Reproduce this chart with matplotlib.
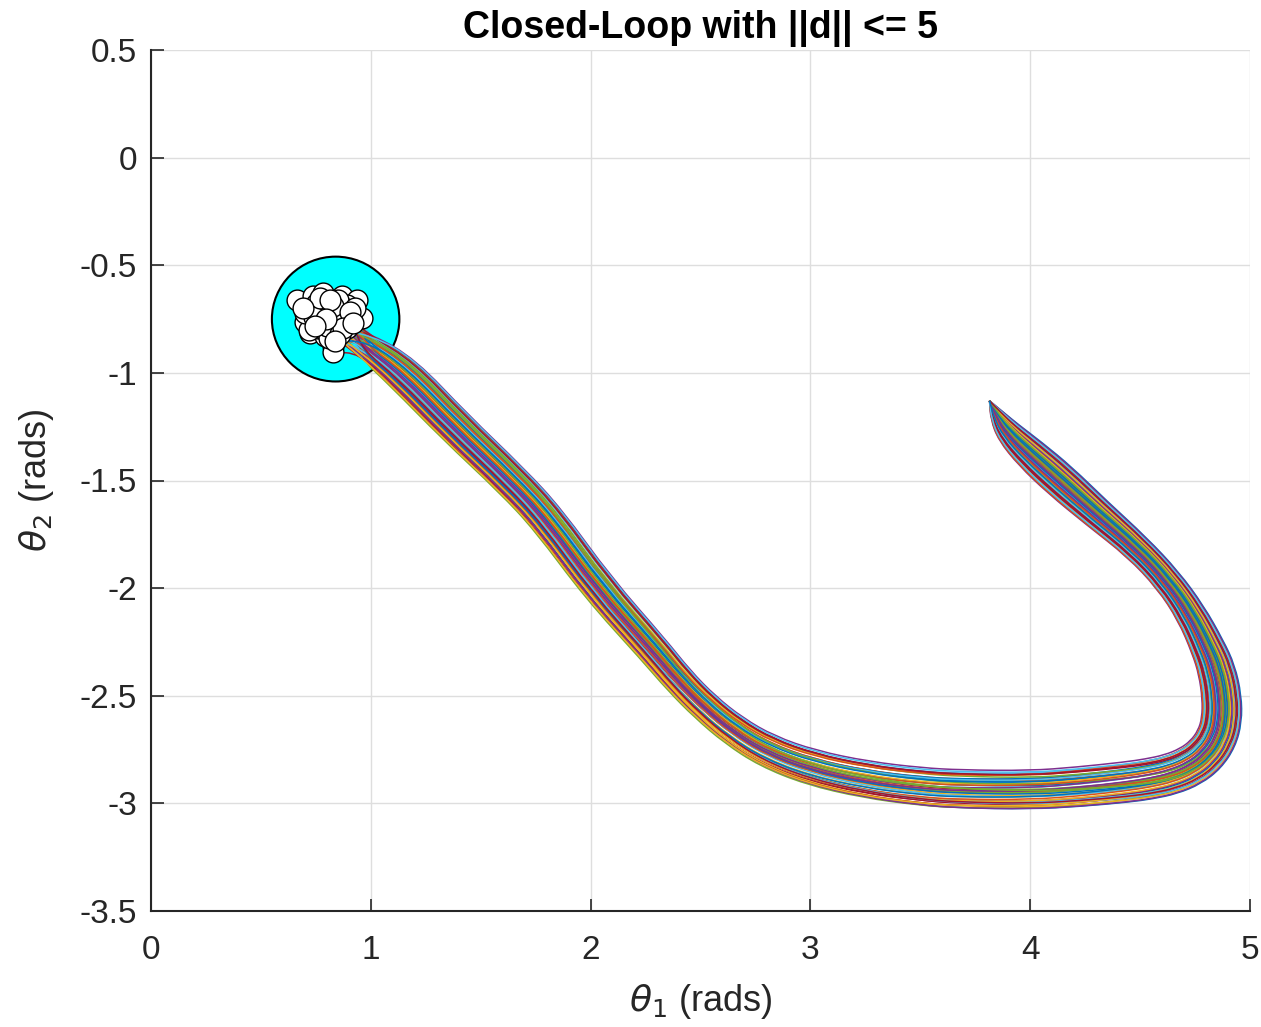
import numpy as np
import matplotlib
matplotlib.use("Agg")
import matplotlib.pyplot as plt
from matplotlib.patches import Circle, PathPatch
from matplotlib.path import Path

# centre line of the trajectory bundle, start -> goal
path_x = [3.815, 3.850, 3.900, 4.000, 4.136, 4.304, 4.486, 4.627, 4.732, 4.809,
          4.850, 4.873, 4.873, 4.850, 4.800, 4.730, 4.640, 4.540, 4.440, 4.220,
          4.000, 3.680, 3.500, 3.250, 3.000, 2.800, 2.650, 2.520, 2.400, 2.284,
          2.034, 1.806, 1.642, 1.383, 1.146, 0.974]
path_y = [-1.130, -1.200, -1.275, -1.375, -1.498, -1.651, -1.809, -1.962, -2.116, -2.274,
          -2.380, -2.506, -2.613, -2.700, -2.775, -2.830, -2.868, -2.890, -2.905, -2.928,
          -2.943, -2.940, -2.928, -2.895, -2.838, -2.760, -2.665, -2.555, -2.430, -2.287,
          -2.000, -1.683, -1.502, -1.251, -1.000, -0.870]
# half width of the bundle at each point of the centre line
half_width = [0.0, 0.035, 0.060, 0.078, 0.085, 0.075, 0.065, 0.065, 0.070, 0.080,
              0.088, 0.093, 0.095, 0.097, 0.099, 0.100, 0.100, 0.100, 0.100, 0.099,
              0.097, 0.097, 0.095, 0.092, 0.088, 0.082, 0.076, 0.072, 0.072, 0.075,
              0.078, 0.080, 0.080, 0.082, 0.085, 0.060]
# how far along each point the lines have moved from their first to second offset
mix = [0, 0, 0, 0, 0, 0, 0, 0, 0, 0,
       0, 0, 0, 0.05, 0.08, 0.11, 0.14, 0.18, 0.22, 0.30,
       0.36, 0.45, 0.50, 0.55, 0.60, 0.65, 0.70, 0.75, 0.80, 0.85,
       0.90, 0.95, 1, 1, 1, 1]

# lateral position of each run inside the bundle (first half / second half)
offset_a = [0.95, -0.62, 0.31, -0.15, 0.72, -0.88, 0.08, 0.54, -0.41, 0.22,
            -0.97, 0.66, -0.27, 0.43, -0.71, 0.12, 0.85, -0.05, -0.53, 0.37,
            0.60, -0.34, 0.01, -0.80, 0.48, 0.18, -0.58, 0.77, -0.20, 0.29,
            -0.45, 0.91, -0.09, 0.64, -0.67, 0.25, -0.93, 0.40, -0.30, 0.05,
            0.82, -0.75, 0.15, -0.38, 0.58, -0.12, 0.34, -0.85, 0.69, -0.48]
offset_b = [0.70, -0.45, 0.10, 0.35, 0.98, -0.75, -0.20, 0.55, -0.60, 0.42,
            -1.00, 0.30, 0.05, 0.80, -0.35, -0.10, 0.62, 0.20, -0.85, 0.15,
            0.88, -0.55, 0.25, -0.65, 0.50, -0.05, -0.40, 0.45, -0.30, 0.60,
            -0.15, 0.75, -0.70, 0.38, -0.92, 0.00, -0.50, 0.65, 0.10, -0.25,
            0.28, -0.82, 0.52, -0.08, 0.92, 0.18, -0.62, -0.96, 0.40, -0.33]

# final states of each run (white markers)
end_x = [0.663, 0.738, 0.783, 0.868, 0.936, 0.928, 0.958, 0.754, 0.708, 0.700,
         0.845, 0.815, 0.830, 0.830, 0.738, 0.723, 0.792, 0.890, 0.800, 0.860,
         0.760, 0.900, 0.840, 0.780, 0.720, 0.880, 0.820, 0.750, 0.910, 0.850,
         0.790, 0.700, 0.870, 0.810, 0.770, 0.930, 0.830, 0.740, 0.890, 0.800,
         0.860, 0.770, 0.905, 0.815, 0.690, 0.875, 0.795, 0.745, 0.920, 0.835]
end_y = [-0.661, -0.645, -0.627, -0.645, -0.661, -0.731, -0.745, -0.762, -0.745, -0.764,
         -0.778, -0.731, -0.876, -0.905, -0.701, -0.817, -0.831, -0.686, -0.700, -0.800,
         -0.790, -0.760, -0.720, -0.760, -0.800, -0.700, -0.820, -0.680, -0.740, -0.660,
         -0.800, -0.720, -0.760, -0.840, -0.730, -0.700, -0.690, -0.740, -0.790, -0.780,
         -0.820, -0.650, -0.715, -0.660, -0.700, -0.790, -0.750, -0.780, -0.770, -0.850]

goal_x, goal_y, goal_r = 0.84, -0.75, 0.29

x_ticks = [0, 1, 2, 3, 4, 5]
y_ticks = [0.5, 0, -0.5, -1, -1.5, -2, -2.5, -3, -3.5]
y_ticklabels = ['0.5', '0', '-0.5', '-1', '-1.5', '-2', '-2.5', '-3', '-3.5']

matlab_colors = ['#0072BD', '#D95319', '#EDB120', '#7E2F8E', '#77AC30', '#4DBEEE', '#A2142F']

plt.rcParams['font.family'] = ['Liberation Sans', 'DejaVu Sans']


def smooth_path(xs, ys):
    # quadratic bezier through the midpoints, the points themselves are controls
    pts = np.column_stack([xs, ys])
    mids = (pts[:-1] + pts[1:]) / 2
    verts = [pts[0], mids[0]]
    codes = [Path.MOVETO, Path.LINETO]
    for i in range(1, len(pts) - 1):
        verts += [pts[i], mids[i]]
        codes += [Path.CURVE3, Path.CURVE3]
    verts.append(pts[-1])
    codes.append(Path.LINETO)
    return Path(verts, codes)


fig = plt.figure(figsize=(12.61, 10.27), dpi=100)
ax = fig.add_axes([151 / 1261, 1 - 911 / 1027, 1099 / 1261, 861 / 1027])

cx = np.array(path_x)
cy = np.array(path_y)
tx = np.gradient(cx)
ty = np.gradient(cy)
nrm = np.hypot(tx, ty)
nx, ny = -ty / nrm, tx / nrm
w = np.array(half_width)
m = np.array(mix)

for k in range(len(offset_a)):
    off = (1 - m) * offset_a[k] + m * offset_b[k]
    xs = np.append(cx + off * w * nx, end_x[k])
    ys = np.append(cy + off * w * ny, end_y[k])
    ax.add_patch(PathPatch(smooth_path(xs, ys), facecolor='none',
                           edgecolor=matlab_colors[k % 7], lw=1.1, zorder=3))

ax.add_patch(Circle((goal_x, goal_y), goal_r, facecolor='cyan', edgecolor='black',
                    lw=1.5, zorder=2))
ax.plot(end_x, end_y, 'o', ms=15, mfc='white', mec='black', mew=1.0, zorder=4,
        linestyle='none')

ax.set_xlim(0, 5)
ax.set_ylim(-3.5, 0.5)
ax.set_xticks(x_ticks)
ax.set_yticks(y_ticks)
ax.set_xticklabels([str(t) for t in x_ticks])
ax.set_yticklabels(y_ticklabels)
ax.grid(True, color='#dedede', lw=1.0)
ax.set_axisbelow(True)
for s in ['top', 'right']:
    ax.spines[s].set_visible(False)
for s in ['left', 'bottom']:
    ax.spines[s].set_color('#262626')
    ax.spines[s].set_linewidth(1.5)
ax.tick_params(direction='in', length=9, width=1.2, colors='#262626', labelsize=24)
ax.tick_params(axis='y', pad=10)
ax.tick_params(axis='x', pad=17)

ax.set_title('Closed-Loop with ||d|| <= 5', fontsize=27, fontweight='bold', pad=9)
ax.set_xlabel(r'$\theta_1$ (rads)', fontsize=26, color='#262626', labelpad=12)
ax.set_ylabel(r'$\theta_2$ (rads)', fontsize=26, color='#262626', labelpad=17)

fig.savefig('out.png', dpi=100)
